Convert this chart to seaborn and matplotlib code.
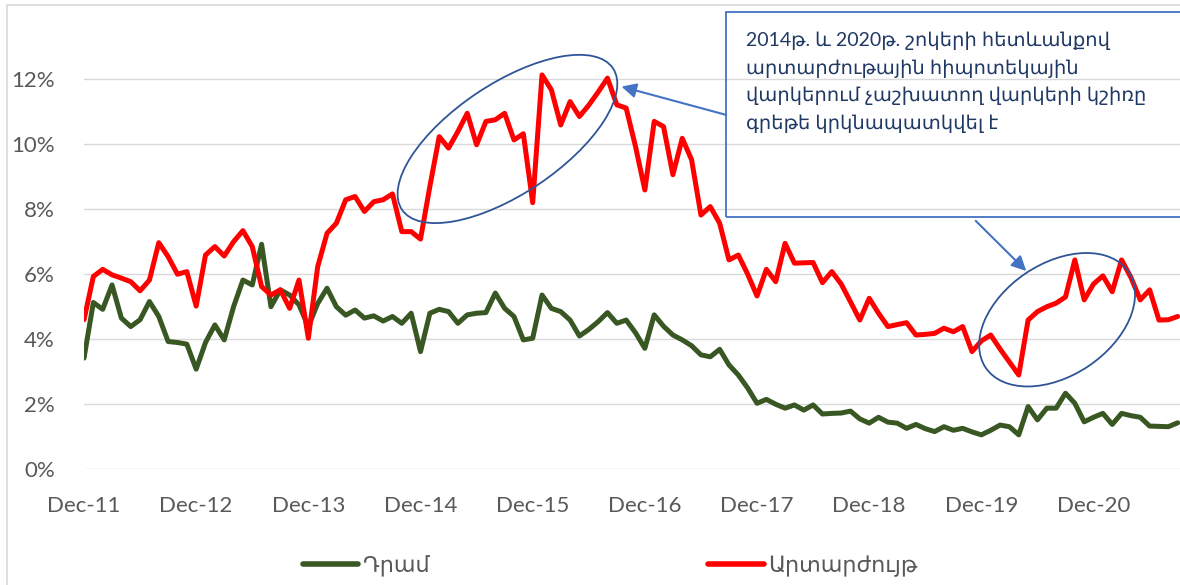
import numpy as np
import pandas as pd
import matplotlib.pyplot as plt
import seaborn as sns
from matplotlib.patches import Ellipse, Rectangle
from matplotlib.transforms import ScaledTranslation
from matplotlib.lines import Line2D

# monthly NPL share (%), Dec-2011 .. Sep-2021
dram = [3.42, 5.13, 4.92, 5.67, 4.65, 4.39, 4.60, 5.16, 4.70, 3.93, 3.90, 3.85,
        3.08, 3.90, 4.44, 3.98, 5.00, 5.82, 5.67, 6.92, 5.00, 5.52, 5.36, 5.06,
        4.39, 5.10, 5.57, 5.00, 4.74, 4.90, 4.65, 4.72, 4.56, 4.70, 4.49, 4.80,
        3.62, 4.80, 4.92, 4.85, 4.49, 4.75, 4.80, 4.82, 5.42, 4.95, 4.70, 3.98,
        4.03, 5.36, 4.95, 4.85, 4.59, 4.10, 4.30, 4.54, 4.82, 4.49, 4.59, 4.20,
        3.72, 4.75, 4.40, 4.13, 3.98, 3.80, 3.52, 3.46, 3.69, 3.21, 2.90, 2.50,
        2.03, 2.15, 2.00, 1.88, 1.98, 1.82, 1.98, 1.70, 1.72, 1.73, 1.79, 1.55,
        1.42, 1.60, 1.45, 1.42, 1.26, 1.38, 1.25, 1.16, 1.31, 1.20, 1.26, 1.15,
        1.06, 1.20, 1.36, 1.31, 1.06, 1.93, 1.52, 1.88, 1.88, 2.34, 2.03, 1.46,
        1.60, 1.72, 1.38, 1.72, 1.65, 1.60, 1.33, 1.32, 1.31, 1.43]

fx = [4.60, 5.93, 6.15, 5.98, 5.88, 5.77, 5.49, 5.82, 6.97, 6.54, 6.00, 6.08,
      5.02, 6.59, 6.85, 6.56, 7.00, 7.34, 6.85, 5.62, 5.36, 5.52, 4.95, 5.82,
      4.03, 6.23, 7.26, 7.57, 8.29, 8.39, 7.93, 8.23, 8.29, 8.47, 7.31, 7.31,
      7.08, 8.70, 10.23, 9.88, 10.39, 10.95, 9.98, 10.70, 10.75, 10.95, 10.13, 10.32,
      8.20, 12.13, 11.67, 10.59, 11.31, 10.85, 11.20, 11.60, 12.03, 11.21, 11.11, 9.93,
      8.59, 10.70, 10.54, 9.06, 10.18, 9.52, 7.82, 8.08, 7.57, 6.44, 6.59, 6.00,
      5.33, 6.15, 5.77, 6.95, 6.34, 6.35, 6.36, 5.74, 6.08, 5.70, 5.15, 4.59,
      5.26, 4.80, 4.39, 4.45, 4.51, 4.13, 4.15, 4.18, 4.34, 4.23, 4.39, 3.62,
      3.95, 4.13, 3.70, 3.30, 2.90, 4.59, 4.85, 5.00, 5.11, 5.30, 6.44, 5.21,
      5.70, 5.95, 5.46, 6.44, 5.90, 5.21, 5.52, 4.59, 4.60, 4.70]

series_names = ['Դրամ', 'Արտարժույթ']
tick_labels = ['Dec-11', 'Dec-12', 'Dec-13', 'Dec-14', 'Dec-15',
               'Dec-16', 'Dec-17', 'Dec-18', 'Dec-19', 'Dec-20']
y_ticks = [0, 2, 4, 6, 8, 10, 12]
note = ("2014թ. և 2020թ. շոկերի հետևանքով\n"
        "արտարժութային հիպոտեկային\n"
        "վարկերում չաշխատող վարկերի կշիռը\n"
        "գրեթե կրկնապատկվել է")

months = np.arange(len(dram))
df = pd.DataFrame({
    'month': np.concatenate([months, months]),
    'value': dram + fx,
    'series': [series_names[0]] * len(dram) + [series_names[1]] * len(fx),
})
colors = {series_names[0]: '#385723', series_names[1]: '#FF0000'}

sns.set_theme(style='white')
plt.rcParams['font.family'] = ['Lato', 'DejaVu Sans']

fig = plt.figure(figsize=(11.8, 5.85), dpi=100)
ax = fig.add_axes([84 / 1180, 1 - 469.3 / 585, 1 - 84 / 1180, (469.3 - 5) / 585])

sns.lineplot(data=df, x='month', y='value', hue='series', palette=colors,
             linewidth=3.6, ax=ax, legend=False)
for ln in ax.lines:
    ln.set_solid_joinstyle('round')
    ln.set_solid_capstyle('round')

ax.set_xlim(0, 117.25)
ax.set_ylim(0, 14.28)
ax.set_xticks(np.arange(0, 12 * len(tick_labels), 12))
ax.set_xticklabels(tick_labels)
ax.set_yticks(y_ticks)
ax.set_yticklabels([f'{v}%' for v in y_ticks])
ax.set_xlabel('')
ax.set_ylabel('')
ax.yaxis.grid(True, color='#D9D9D9', linewidth=1.0)
ax.xaxis.grid(False)
ax.set_axisbelow(True)
for s in ax.spines.values():
    s.set_visible(False)
ax.tick_params(axis='y', length=0, pad=21, labelsize=16, labelcolor='#595959')
ax.tick_params(axis='x', length=0, pad=19, labelsize=16, labelcolor='#595959')

# chart border (left and top)
fig.add_artist(Line2D([7 / 1180, 7 / 1180], [0, 1 - 5 / 585], transform=fig.transFigure,
                      color='#D9D9D9', lw=1.2))
fig.add_artist(Line2D([7 / 1180, 1], [1 - 5 / 585, 1 - 5 / 585], transform=fig.transFigure,
                      color='#D9D9D9', lw=1.2))

# ellipses around the two shock periods
for cx, cy, w, h in [(45.3, 10.16, 2.54, 1.10), (104.1, 4.6, 1.72, 1.12)]:
    e = Ellipse((0, 0), w, h, angle=33.8, fill=False, ec='#2F5597', lw=1.3,
                transform=fig.dpi_scale_trans + ScaledTranslation(cx, cy, ax.transData))
    fig.add_artist(e)

# callout box
box = Rectangle((68.7, 7.76), 52, 6.29, fill=False, ec='#4472C4', lw=1.3, clip_on=False)
ax.add_patch(box)
ax.text(70.8, 13.45, note, ha='left', va='top', fontsize=14, color='#1F3864',
        linespacing=1.62)

arrow = dict(arrowstyle='-|>', color='#4472C4', lw=1.5, mutation_scale=22,
             shrinkA=0, shrinkB=0)
ax.annotate('', xy=(57.5, 11.77), xytext=(68.7, 10.9), arrowprops=arrow,
            annotation_clip=False)
ax.annotate('', xy=(100.8, 6.1), xytext=(95.4, 7.64), arrowprops=arrow,
            annotation_clip=False)

handles = [Line2D([], [], color=colors[n], lw=4, solid_capstyle='round') for n in series_names]
fig.legend(handles, series_names, loc='center left', bbox_to_anchor=(0.2395, 0.0325),
           ncol=2, frameon=False, fontsize=16, handlelength=2.5, handletextpad=0.2,
           columnspacing=12.55, labelcolor='#595959')

fig.savefig('out.png', dpi=100)
